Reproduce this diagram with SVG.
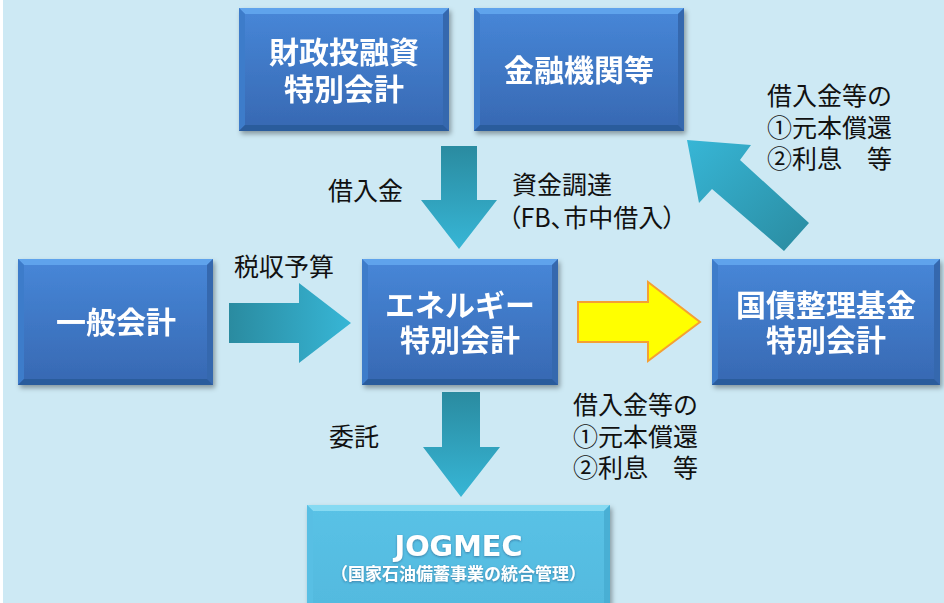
<svg xmlns="http://www.w3.org/2000/svg" width="944" height="603" viewBox="0 0 944 603">
<defs>
<linearGradient id="gBox" x1="0" y1="0" x2="0" y2="1"><stop offset="0" stop-color="#4787D8"/><stop offset="1" stop-color="#3768B2"/></linearGradient>
<linearGradient id="gJog" x1="0" y1="0" x2="0" y2="1"><stop offset="0" stop-color="#5AC2E6"/><stop offset="1" stop-color="#52B9DE"/></linearGradient>
<linearGradient id="gDown" x1="0" y1="0" x2="0" y2="1"><stop offset="0" stop-color="#2A8BA0"/><stop offset="1" stop-color="#37B6D6"/></linearGradient>
<linearGradient id="gRight" x1="0" y1="0" x2="1" y2="0"><stop offset="0" stop-color="#2A8BA0"/><stop offset="1" stop-color="#37B6D6"/></linearGradient>
<linearGradient id="gDiag" x1="1" y1="1" x2="0" y2="0"><stop offset="0" stop-color="#2A8BA0"/><stop offset="1" stop-color="#37B6D6"/></linearGradient>
<filter id="sh" x="-10%" y="-10%" width="125%" height="130%"><feDropShadow dx="2" dy="3" stdDeviation="2.5" flood-color="#000" flood-opacity="0.35"/></filter>
<filter id="tsh" x="-5%" y="-20%" width="110%" height="140%"><feDropShadow dx="0" dy="1" stdDeviation="1" flood-color="#1a3a6a" flood-opacity="0.5"/></filter>
</defs>
<style>
.bt{fill:#5EA3EC}.bb{fill:#2C5B9C}.bl{fill:#3E7BCA}.br{fill:#3467AE}
.jt{fill:#86DAF2}.jb{fill:#42A6CA}.jl{fill:#58BFE4}.jr{fill:#4AAFD4}
.nt{font-family:"Noto Sans CJK JP","Noto Sans",sans-serif;font-weight:bold;font-size:30px;fill:#fff;text-anchor:middle}
.lb{font-family:"Noto Sans CJK JP","Noto Sans",sans-serif;font-size:25px;fill:#111}
.ar{stroke:none}
</style>
<rect width="944" height="603" fill="#CDE9F4"/>
<rect x="0" y="0" width="3" height="603" fill="#FFFFFF"/>

<g id="connectors">
<polygon class="ar" fill="url(#gDown)" points="441,146 477,146 477,200 497,200 459,249 421,200 441,200"/>
<polygon class="ar" fill="url(#gRight)" points="229,303 299,303 299,283 351,323 299,363 299,343 229,343"/>
<polygon class="ar" fill="url(#gDown)" points="442,392 480,392 480,447 500,447 461,497 423,447 442,447"/>
<polygon fill="#FFFF00" stroke="#F5A033" stroke-width="2" stroke-linejoin="miter" points="578,302 648,302 648,282 700,322 648,361 648,342 578,342"/>
<polygon class="ar" fill="url(#gDiag)" points="687,140 751,145 740,160 809,223 784,251 712,189 699,203"/>
</g>

<g id="n-zaito" filter="url(#sh)">
<rect x="239" y="8" width="210" height="123" fill="url(#gBox)"/>
<polygon class="bt" points="239,8 449,8 443,14 245,14"/>
<polygon class="bl" points="239,8 245,14 245,125 239,131"/>
<polygon class="br" points="449,8 443,14 443,125 449,131"/>
<polygon class="bb" points="239,131 449,131 443,125 245,125"/>
<text class="nt" x="344" y="63">財政投融資</text>
<text class="nt" x="344" y="100">特別会計</text>
</g>

<g id="n-kinyu" filter="url(#sh)">
<rect x="474" y="8" width="210" height="123" fill="url(#gBox)"/>
<polygon class="bt" points="474,8 684,8 678,14 480,14"/>
<polygon class="bl" points="474,8 480,14 480,125 474,131"/>
<polygon class="br" points="684,8 678,14 678,125 684,131"/>
<polygon class="bb" points="474,131 684,131 678,125 480,125"/>
<text class="nt" x="579" y="81">金融機関等</text>
</g>

<g id="n-ippan" filter="url(#sh)">
<rect x="18" y="259" width="195" height="126" fill="url(#gBox)"/>
<polygon class="bt" points="18,259 213,259 207,265 24,265"/>
<polygon class="bl" points="18,259 24,265 24,379 18,385"/>
<polygon class="br" points="213,259 207,265 207,379 213,385"/>
<polygon class="bb" points="18,385 213,385 207,379 24,379"/>
<text class="nt" x="116" y="333">一般会計</text>
</g>

<g id="n-energy" filter="url(#sh)">
<rect x="362" y="259" width="196" height="126" fill="url(#gBox)"/>
<polygon class="bt" points="362,259 558,259 552,265 368,265"/>
<polygon class="bl" points="362,259 368,265 368,379 362,385"/>
<polygon class="br" points="558,259 552,265 552,379 558,385"/>
<polygon class="bb" points="362,385 558,385 552,379 368,379"/>
<text class="nt" x="460" y="316">エネルギー</text>
<text class="nt" x="460" y="351">特別会計</text>
</g>

<g id="n-kokusai" filter="url(#sh)">
<rect x="712" y="259" width="228" height="126" fill="url(#gBox)"/>
<polygon class="bt" points="712,259 940,259 934,265 718,265"/>
<polygon class="bl" points="712,259 718,265 718,379 712,385"/>
<polygon class="br" points="940,259 934,265 934,379 940,385"/>
<polygon class="bb" points="712,385 940,385 934,379 718,379"/>
<text class="nt" x="826" y="316">国債整理基金</text>
<text class="nt" x="826" y="351">特別会計</text>
</g>

<g id="n-jogmec" filter="url(#sh)">
<rect x="307" y="505" width="303" height="110" fill="url(#gJog)"/>
<polygon class="jt" points="307,505 610,505 604,511 313,511"/>
<polygon class="jl" points="307,505 313,511 313,615 307,615"/>
<polygon class="jr" points="610,505 604,511 604,615 610,615"/>
<text x="458.5" y="556" font-family="'DejaVu Sans',Verdana,sans-serif" font-weight="bold" font-size="29" fill="#fff" text-anchor="middle" textLength="128" lengthAdjust="spacingAndGlyphs" filter="url(#tsh)">JOGMEC</text>
<text x="458.5" y="580" font-family="'Noto Sans CJK JP',sans-serif" font-weight="bold" font-size="17" fill="#fff" text-anchor="middle" filter="url(#tsh)">（国家石油備蓄事業の統合管理）</text>
</g>

<g id="labels">
<text class="lb" x="328" y="200">借入金</text>
<text class="lb" x="234" y="276">税収予算</text>
<text class="lb" x="512" y="194">資金調達</text>
<text class="lb" x="508" y="227" style="font-feature-settings:'palt'">（FB、市中借入）</text>
<text class="lb" x="767" y="105">借入金等の</text>
<text class="lb" x="767" y="137">①元本償還</text>
<text class="lb" x="767" y="168">②利息　等</text>
<text class="lb" x="329" y="446">委託</text>
<text class="lb" x="573" y="414">借入金等の</text>
<text class="lb" x="573" y="446">①元本償還</text>
<text class="lb" x="573" y="477">②利息　等</text>
</g>
</svg>
